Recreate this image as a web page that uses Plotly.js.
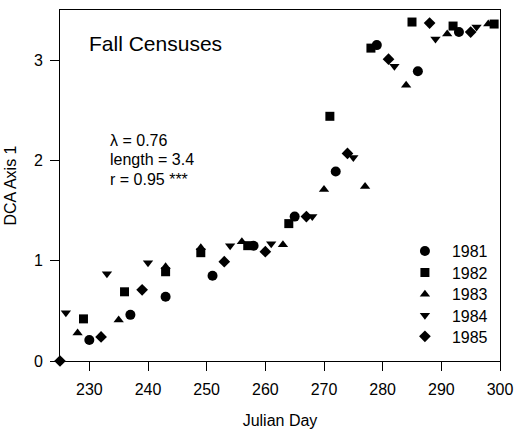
<!DOCTYPE html>
<html>
<head>
<meta charset="utf-8">
<script src="https://cdn.plot.ly/plotly-3.0.1.min.js"></script>
<style>html,body{margin:0;padding:0;background:#fff}#chart{width:514px;height:429px}</style>
</head>
<body>
<div id="chart"></div>
<script>
const years = ["1981", "1982", "1983", "1984", "1985"];
const day1981 = [230, 237, 243, 251, 258, 265, 272, 279, 286, 293];
const dca1981 = [0.21, 0.46, 0.64, 0.85, 1.15, 1.44, 1.89, 3.15, 2.89, 3.28];
const day1982 = [229, 236, 243, 249, 257, 264, 271, 278, 285, 292, 299];
const dca1982 = [0.42, 0.69, 0.89, 1.08, 1.15, 1.37, 2.44, 3.12, 3.38, 3.34, 3.36];
const day1983 = [228, 235, 243, 249, 256, 263, 270, 277, 284, 291, 298];
const dca1983 = [0.28, 0.41, 0.94, 1.13, 1.19, 1.16, 1.71, 1.74, 2.75, 3.26, 3.36];
const day1984 = [226, 233, 240, 254, 261, 268, 275, 282, 289, 296];
const dca1984 = [0.48, 0.87, 0.98, 1.15, 1.17, 1.44, 2.03, 2.94, 3.21, 3.33];
const day1985 = [225, 232, 239, 253, 260, 267, 274, 281, 288, 295];
const dca1985 = [0.00, 0.24, 0.71, 0.99, 1.09, 1.44, 2.07, 3.01, 3.37, 3.28];
const statLines = ["λ = 0.76", "length = 3.4", "r = 0.95 ***"];

const days = [day1981, day1982, day1983, day1984, day1985];
const dcas = [dca1981, dca1982, dca1983, dca1984, dca1985];
const symbols = ["circle", "square", "triangle-up", "triangle-down", "diamond"];
const sizes = [10, 9, 9, 9, 9];

const FONT = "Liberation Sans, Arial, Helvetica, sans-serif";
const legendIds = ["legend", "legend2", "legend3", "legend4", "legend5"];
const legendRowY = [0.313, 0.252, 0.190, 0.130, 0.070];

const traces = years.map((y, i) => ({
  type: "scatter",
  mode: "markers",
  name: y,
  legend: legendIds[i],
  x: days[i],
  y: dcas[i],
  cliponaxis: false,
  marker: {symbol: symbols[i], size: sizes[i], color: "#000", line: {width: 0}}
}));

const layout = {
  width: 514,
  height: 429,
  margin: {l: 60, r: 14, t: 10, b: 68},
  paper_bgcolor: "#fff",
  plot_bgcolor: "#fff",
  font: {family: FONT, size: 16, color: "#000"},
  showlegend: true,
  xaxis: {
    range: [225, 300],
    tickvals: [230, 240, 250, 260, 270, 280, 290, 300],
    ticks: "outside", ticklen: 9, tickwidth: 1, tickcolor: "#000",
    ticklabelstandoff: 5,
    showline: true, linecolor: "#000", linewidth: 1, mirror: true,
    showgrid: false, zeroline: false,
    tickfont: {family: FONT, size: 16, color: "#000"},
    title: {text: "Julian Day", font: {family: FONT, size: 16, color: "#000"}, standoff: 18}
  },
  yaxis: {
    range: [0, 3.5],
    tickvals: [0, 1, 2, 3],
    ticks: "outside", ticklen: 9, tickwidth: 1, tickcolor: "#000",
    ticklabelstandoff: 4,
    showline: true, linecolor: "#000", linewidth: 1, mirror: true,
    showgrid: false, zeroline: false,
    tickfont: {family: FONT, size: 16, color: "#000"},
    title: {text: "DCA Axis 1", font: {family: FONT, size: 16, color: "#000"}, standoff: 13}
  },
  annotations: [
    {xref: "paper", yref: "paper", x: 0.062, y: 0.905, xanchor: "left", yanchor: "middle",
     text: "Fall Censuses", showarrow: false, font: {family: FONT, size: 21, color: "#000"}}
  ].concat(statLines.map((t, k) => ({
    xref: "paper", yref: "paper", x: 0.108, y: [0.627, 0.573, 0.516][k],
    xanchor: "left", yanchor: "middle", align: "left",
    text: t, showarrow: false, font: {family: FONT, size: 16, color: "#000"}
  })))
};

legendIds.forEach((id, i) => {
  layout[id] = {
    x: 0.768, y: legendRowY[i], xanchor: "left", yanchor: "middle",
    bgcolor: "rgba(0,0,0,0)", borderwidth: 0,
    font: {family: FONT, size: 16, color: "#000"},
    itemwidth: 44
  };
});

Plotly.newPlot("chart", traces, layout, {displayModeBar: false, staticPlot: true});
</script>
</body>
</html>
